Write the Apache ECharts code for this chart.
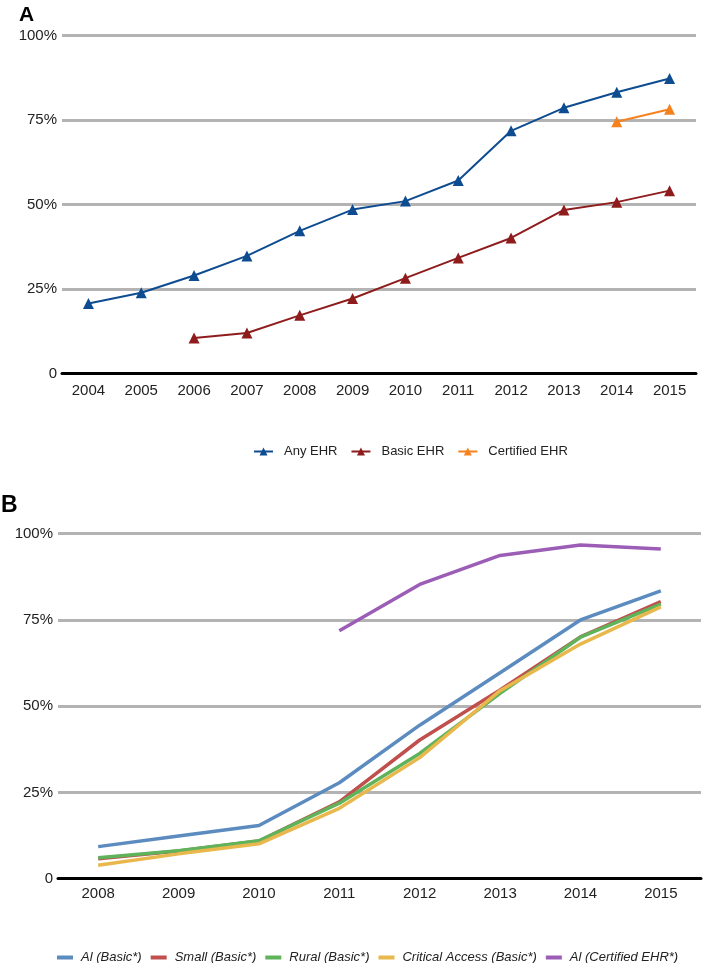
<!DOCTYPE html>
<html>
<head>
<meta charset="utf-8">
<script src="https://cdn.jsdelivr.net/npm/echarts@6/dist/echarts.min.js"></script>
<style>
html,body{margin:0;padding:0;background:#fff;}
#chart{width:709px;height:963px;}
</style>
</head>
<body>
<div id="chart"></div>
<script>
// Panel A data
var yearsA = ['2004','2005','2006','2007','2008','2009','2010','2011','2012','2013','2014','2015'];
var anyEHR = [20.7, 23.9, 29.0, 34.8, 42.2, 48.5, 51.0, 57.1, 71.8, 78.6, 83.2, 87.3];
var basicEHR = [null, null, 10.5, 12.0, 17.2, 22.2, 28.2, 34.2, 40.1, 48.4, 50.7, 54.1];
var certifiedEHR = [null, null, null, null, null, null, null, null, null, null, 74.5, 78.2];

// Panel B data
var yearsB = ['2008','2009','2010','2011','2012','2013','2014','2015'];
var alBasic = [9.3, 12.4, 15.4, 27.8, 44.5, 59.7, 75.0, 83.4];
var smallBasic = [5.8, 8.0, 10.9, 22.3, 40.2, 54.7, 70.1, 80.3];
var ruralBasic = [6.1, 8.1, 11.0, 21.9, 36.3, 53.7, 70.0, 79.6];
var criticalBasic = [3.9, 7.2, 10.1, 20.4, 35.1, 54.5, 68.0, 78.8];
var alCertified = [null, null, null, 71.9, 85.3, 93.7, 96.7, 95.6];

var yTicks = ['0', '25%', '50%', '75%', '100%'];

var font = '"Liberation Sans", Arial, Helvetica, sans-serif';

function yAxis(gi) {
  return {
    type: 'value', gridIndex: gi, min: 0, max: 100, interval: 25,
    axisLine: {show: false}, axisTick: {show: false},
    axisLabel: {fontFamily: font, fontSize: 15, color: '#222', margin: 5,
      formatter: function (v) { return yTicks[Math.round(v / 25)]; }},
    splitLine: {lineStyle: {color: '#b3b3b3', width: 3}}
  };
}
function xAxis(gi, data, margin) {
  return {
    type: 'category', gridIndex: gi, data: data, boundaryGap: true,
    axisLine: {lineStyle: {color: '#000', width: 3}},
    axisTick: {show: false},
    axisLabel: {fontFamily: font, fontSize: 15, color: '#222', margin: margin}
  };
}
function lineA(name, data, color) {
  return {name: name, type: 'line', xAxisIndex: 0, yAxisIndex: 0, data: data,
    symbol: 'triangle', symbolSize: 11, showSymbol: true,
    lineStyle: {color: color, width: 2}, itemStyle: {color: color},
    connectNulls: false, animation: false};
}
function lineB(name, data, color) {
  return {name: name, type: 'line', xAxisIndex: 1, yAxisIndex: 1, data: data,
    symbol: 'none', lineStyle: {color: color, width: 3.5}, itemStyle: {color: color},
    animation: false};
}

var chart = echarts.init(document.getElementById('chart'), null, {renderer: 'canvas'});
chart.setOption({
  backgroundColor: '#fff',
  animation: false,
  graphic: [
    {type: 'text', left: 19, top: 5, style: {text: 'A', font: 'bold 21px ' + font, fill: '#000'}},
    {type: 'text', left: 1, top: 494, style: {text: 'B', font: 'bold 23px ' + font, fill: '#000'}}
  ],
  grid: [
    {left: 62, width: 634, top: 35.5, height: 338},
    {left: 58, width: 643, top: 533.7, height: 345}
  ],
  xAxis: [xAxis(0, yearsA, 10), xAxis(1, yearsB, 8)],
  yAxis: [yAxis(0), yAxis(1)],
  legend: [
    {data: ['Any EHR', 'Basic EHR', 'Certified EHR'], top: 440, left: 248,
      itemWidth: 19, itemHeight: 10, itemGap: 13,
      textStyle: {fontFamily: font, fontSize: 13, color: '#222', padding: [0, 0, 0, 6]}},
    {data: ['Al (Basic*)', 'Small (Basic*)', 'Rural (Basic*)', 'Critical Access (Basic*)', 'Al (Certified EHR*)'],
      top: 946, left: 52, icon: 'rect', itemWidth: 16, itemHeight: 4, itemGap: 9,
      textStyle: {fontFamily: font, fontSize: 13, fontStyle: 'italic', color: '#222', padding: [0, 0, 0, 3]}}
  ],
  series: [
    lineA('Any EHR', anyEHR, '#0e4c91'),
    lineA('Basic EHR', basicEHR, '#8f1c1c'),
    lineA('Certified EHR', certifiedEHR, '#f5821f'),
    lineB('Al (Basic*)', alBasic, '#5b8bbf'),
    lineB('Small (Basic*)', smallBasic, '#bf504d'),
    lineB('Rural (Basic*)', ruralBasic, '#5fb35a'),
    lineB('Critical Access (Basic*)', criticalBasic, '#e8b84c'),
    lineB('Al (Certified EHR*)', alCertified, '#9b5db6')
  ]
});
</script>
</body>
</html>
